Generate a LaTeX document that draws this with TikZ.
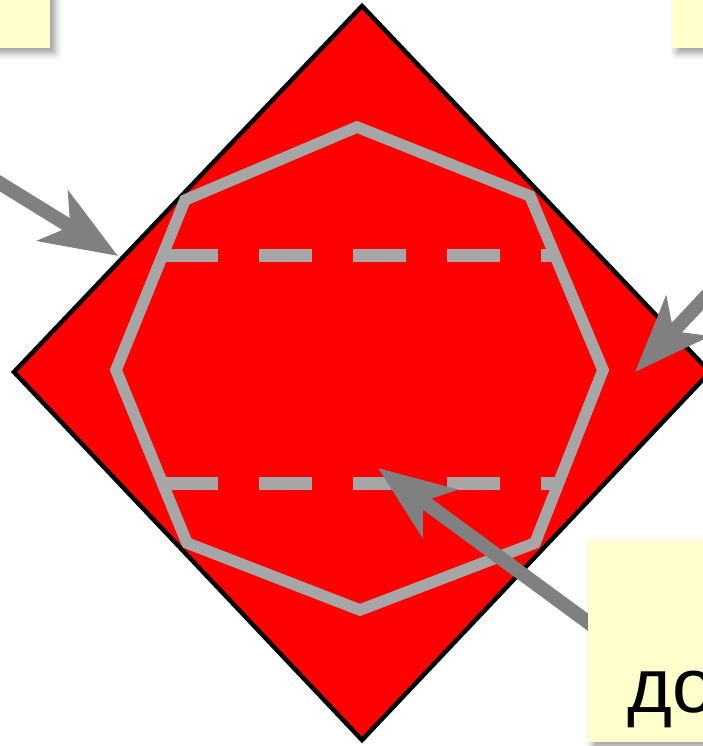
\documentclass[tikz,border=0pt]{standalone}
\usepackage{fontspec}
\setmainfont{Liberation Sans}
\usetikzlibrary{positioning, arrows.meta, shadows.blur}
\definecolor{grigio}{RGB}{166,166,166}
\definecolor{grigioscuro}{RGB}{128,128,128}
\definecolor{giallino}{RGB}{255,255,204}

\begin{document}
\begin{tikzpicture}[
    x=1pt, y=-1pt,
    % Stili per le figure
    rombo/.style={draw=black, line width=4.5pt, fill=red, line join=miter},
    contorno/.style={draw=grigio, line width=11.5pt, line join=miter},
    tratteggio/.style={draw=grigio, line width=13pt, dash pattern=on 53pt off 41pt},
    % Stili per frecce e riquadri
    freccia/.style={draw=grigioscuro, line width=14pt, -{Stealth[length=76pt, width=58pt, inset=20pt]}},
    riquadro/.style={fill=giallino, inner sep=0pt, blur shadow={shadow xshift=5pt, shadow yshift=-5pt, shadow blur radius=7pt}}
]
    \useasboundingbox (0,0) rectangle (703,746);

    % Rombo rosso
    \draw[rombo] (362,6) -- (14,372) -- (362,740) -- (710,372) -- cycle;

    % Ottagono e linee tratteggiate
    \draw[contorno] (357,127) -- (530,196) -- (603,370) -- (535,543)
        -- (360,610) -- (187,543) -- (116,370) -- (185,200) -- cycle;
    \draw[tratteggio] (165,255.5) -- (557,255.5);
    \draw[tratteggio] (165,483.5) -- (557,483.5);

    % Punti delle frecce
    \coordinate (origineA) at (-20,171);
    \coordinate (puntaA) at (118,256);
    \coordinate (origineB) at (730,271);
    \coordinate (puntaB) at (635,372);
    \coordinate (origineC) at (600,631);
    \coordinate (puntaC) at (378,468);

    % Frecce
    \draw[freccia] (origineA) -- (puntaA);
    \draw[freccia] (origineB) -- (puntaB);
    \draw[freccia] (origineC) -- (puntaC);

    % Riquadri
    \node[riquadro, minimum width=150pt, minimum height=100pt, anchor=south east] (notaA) at (50,48) {};
    \node[riquadro, minimum width=150pt, minimum height=100pt, anchor=south west] (notaB) at (672,48) {};
    \node[riquadro, minimum width=200pt, minimum height=202pt, anchor=north west] (notaC) at (588,540) {};
    \node[anchor=base west, inner sep=0pt, font=\fontsize{77}{90}\selectfont] (testo) at (627,712) {до};

\end{tikzpicture}
\end{document}
